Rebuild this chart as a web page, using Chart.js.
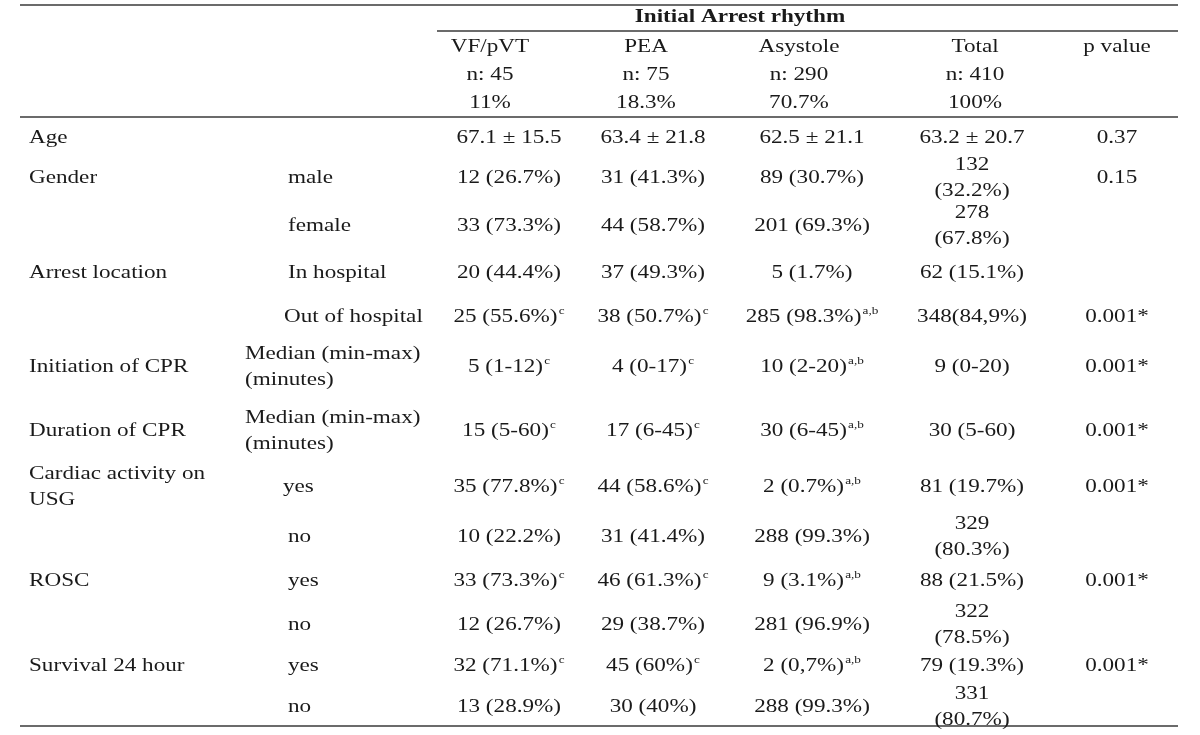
<!DOCTYPE html>
<html lang="en">
<head>
    <meta charset="UTF-8">
    <title>Initial Arrest rhythm</title>
    <script src="https://cdn.jsdelivr.net/npm/chart.js"></script>
    <style>
        body { margin: 0; background: #fff; }
    </style>
</head>
<body>
    <canvas id="arrestTable" width="1200" height="735"></canvas>

    <script>
        // column headers
        const groups = ['VF/pVT', 'PEA', 'Asystole', 'Total', 'p value'];
        const groupCounts = ['n: 45', 'n: 75', 'n: 290', 'n: 410', ''];
        const groupShares = ['11%', '18.3%', '70.7%', '100%', ''];

        // rows ("\n" = line break, "^" = superscript)
        const variables = ['Age', 'Gender', '', 'Arrest location', '', 'Initiation of CPR', 'Duration of CPR',
            'Cardiac activity on\nUSG', '', 'ROSC', '', 'Survival 24 hour', ''];
        const subgroups = ['', 'male', 'female', 'In hospital', 'Out of hospital', 'Median (min-max)\n(minutes)',
            'Median (min-max)\n(minutes)', 'yes', 'no', 'yes', 'no', 'yes', 'no'];

        const vfPvt = ['67.1 ± 15.5', '12 (26.7%)', '33 (73.3%)', '20 (44.4%)', '25 (55.6%)^c', '5 (1-12)^c',
            '15 (5-60)^c', '35 (77.8%)^c', '10 (22.2%)', '33 (73.3%)^c', '12 (26.7%)', '32 (71.1%)^c', '13 (28.9%)'];
        const pea = ['63.4 ± 21.8', '31 (41.3%)', '44 (58.7%)', '37 (49.3%)', '38 (50.7%)^c', '4 (0-17)^c',
            '17 (6-45)^c', '44 (58.6%)^c', '31 (41.4%)', '46 (61.3%)^c', '29 (38.7%)', '45 (60%)^c', '30 (40%)'];
        const asystole = ['62.5 ± 21.1', '89 (30.7%)', '201 (69.3%)', '5 (1.7%)', '285 (98.3%)^a,b', '10 (2-20)^a,b',
            '30 (6-45)^a,b', '2 (0.7%)^a,b', '288 (99.3%)', '9 (3.1%)^a,b', '281 (96.9%)', '2 (0,7%)^a,b', '288 (99.3%)'];
        const total = ['63.2 ± 20.7', '132\n(32.2%)', '278\n(67.8%)', '62 (15.1%)', '348(84,9%)', '9 (0-20)',
            '30 (5-60)', '81 (19.7%)', '329\n(80.3%)', '88 (21.5%)', '322\n(78.5%)', '79 (19.3%)', '331\n(80.7%)'];
        const pValues = ['0.37', '0.15', '', '', '0.001*', '0.001*', '0.001*', '0.001*', '', '0.001*', '', '0.001*', ''];

        // layout
        const rowY = [136, 176, 224, 271, 315, 365, 429, 485, 535, 579, 623, 664, 705];
        const colX = [29, 288, 509, 653, 812, 972, 1117];
        const subX = [288, 288, 288, 288, 284, 245, 245, 283, 288, 288, 288, 288, 288];
        const headX = [490, 646, 799, 975, 1117];
        const headY = [45, 73, 101];
        const FONT = '"Liberation Serif", "Times New Roman", serif';
        const SIZE = 19.3;
        const STRETCH = 1.2;
        const LINE = 26;
        const INK = '#1a1a1a';

        const columns = [variables, subgroups, vfPvt, pea, asystole, total, pValues];
        const datasets = columns.map((col, c) => ({
            label: 'col' + c,
            cells: col,
            align: c < 2 ? 'left' : 'center',
            data: col.map((t, i) => ({ x: c === 1 ? subX[i] : colX[c], y: rowY[i] }))
        }));
        [groups, groupCounts, groupShares].forEach((row, r) => {
            datasets.push({
                label: 'head' + r,
                cells: row,
                align: 'center',
                data: row.map((t, i) => ({ x: headX[i], y: headY[r] }))
            });
        });
        datasets.push({
            label: 'title',
            cells: ['Initial Arrest rhythm'],
            align: 'center',
            bold: true,
            data: [{ x: 740, y: 15 }]
        });

        function drawCell(ctx, text, x, y, align, bold) {
            const lines = text.split('\n');
            const y0 = y + 2 - (lines.length - 1) * LINE / 2;
            lines.forEach((line, k) => {
                const [main, sup = ''] = line.split('^');
                const mainFont = (bold ? 'bold ' : '') + SIZE + 'px ' + FONT;
                const supFont = '11px ' + FONT;
                ctx.font = mainFont;
                const mw = ctx.measureText(main).width;
                ctx.font = supFont;
                const sw = sup ? ctx.measureText(sup).width + 1 : 0;
                const w = (mw + sw) * STRETCH;
                const sx = align === 'center' ? x - w / 2 : x;
                const ly = y0 + k * LINE;
                ctx.save();
                ctx.translate(sx, ly);
                ctx.scale(STRETCH, 1);
                ctx.fillStyle = INK;
                ctx.textBaseline = 'middle';
                ctx.textAlign = 'left';
                ctx.font = mainFont;
                ctx.fillText(main, 0, 0);
                if (sup) {
                    ctx.font = supFont;
                    ctx.fillText(sup, mw + 1, -6);
                }
                ctx.restore();
            });
        }

        const tablePlugin = {
            id: 'tableText',
            afterDatasetsDraw(chart) {
                const ctx = chart.ctx;
                const xs = chart.scales.x, ys = chart.scales.y;
                // horizontal rules
                ctx.save();
                ctx.strokeStyle = '#3a3a3a';
                ctx.lineWidth = 1.6;
                [[20, 1178, 5], [437, 1178, 31], [20, 1178, 117], [20, 1178, 726]].forEach(([a, b, y]) => {
                    ctx.beginPath();
                    ctx.moveTo(xs.getPixelForValue(a), ys.getPixelForValue(y));
                    ctx.lineTo(xs.getPixelForValue(b), ys.getPixelForValue(y));
                    ctx.stroke();
                });
                ctx.restore();
                chart.data.datasets.forEach((ds, i) => {
                    const meta = chart.getDatasetMeta(i);
                    meta.data.forEach((el, j) => {
                        const t = ds.cells[j];
                        if (t) drawCell(ctx, t, el.x, el.y, ds.align, ds.bold);
                    });
                });
            }
        };

        new Chart(document.getElementById('arrestTable'), {
            type: 'scatter',
            data: { datasets: datasets },
            options: {
                responsive: false,
                animation: false,
                events: [],
                layout: { padding: 0 },
                elements: { point: { radius: 0, hoverRadius: 0 } },
                plugins: { legend: { display: false }, tooltip: { enabled: false } },
                scales: {
                    x: { type: 'linear', min: 0, max: 1200, display: false },
                    y: { type: 'linear', min: 0, max: 735, reverse: true, display: false }
                }
            },
            plugins: [tablePlugin]
        });
    </script>
</body>
</html>
